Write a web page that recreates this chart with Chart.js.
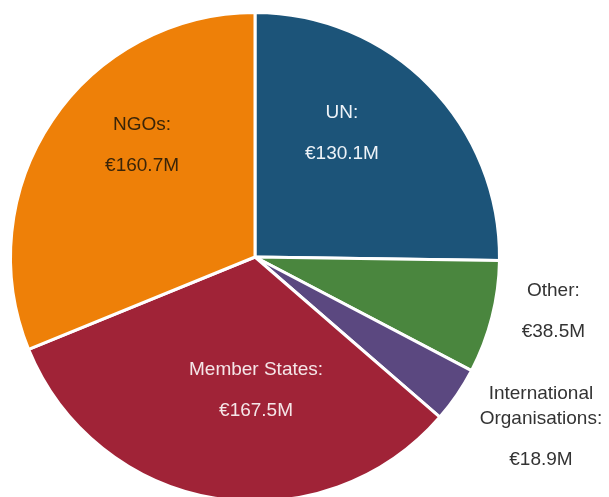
<!DOCTYPE html>
<html>
<head>
<meta charset="utf-8">
<script src="https://cdn.jsdelivr.net/npm/chart.js@4"></script>
<style>
  html, body { margin: 0; padding: 0; background: #fff; }
  #wrap { width: 609px; height: 497px; overflow: hidden; position: relative; }
</style>
</head>
<body>
<div id="wrap"><canvas id="chart" width="609" height="504"></canvas></div>
<script>
// Dados (em milhões de euros), na ordem horária a partir do topo
const categorias = ['UN', 'Other', 'International Organisations', 'Member States', 'NGOs'];
const linhasRotulo = [['UN:'], ['Other:'], ['International', 'Organisations:'], ['Member States:'], ['NGOs:']];
const valores = [130.1, 38.5, 18.9, 167.5, 160.7];
const cores = ['#1c5479', '#4a863e', '#5b4880', '#a02337', '#ee8008'];
const coresTexto = ['#eef3f8', '#333333', '#333333', '#f5e6e8', '#3a2408'];

// posição do rótulo: desvio angular (graus) e fator de raio em relação ao meio da fatia
const posRotulo = [
    { dAng: -10.4, fr: 0.62 },
    { dAng: -4.0, fr: 1.24 },
    { dAng: -3.6, fr: 1.36 },
    { dAng: -9.8, fr: 0.545 },
    { dAng: 10.8, fr: 0.65 }
];

// plugin simples para escrever os rótulos
const pluginRotulos = {
    id: 'rotulos',
    afterDatasetsDraw(chart) {
        const ctx = chart.ctx;
        const meta = chart.getDatasetMeta(0);
        ctx.save();
        ctx.font = '19px "Liberation Sans", Arial, sans-serif';
        ctx.textAlign = 'center';
        ctx.textBaseline = 'middle';
        meta.data.forEach((arco, i) => {
            const p = arco.getProps(['x', 'y', 'startAngle', 'endAngle', 'outerRadius'], true);
            const meio = (p.startAngle + p.endAngle) / 2 + posRotulo[i].dAng * Math.PI / 180;
            const r = p.outerRadius * posRotulo[i].fr;
            const cx = p.x + Math.cos(meio) * r;
            const cy = p.y + Math.sin(meio) * r;
            const linhas = linhasRotulo[i];
            const valorTxt = '€' + valores[i].toFixed(1) + 'M';
            // altura total: linhas de nome (25px) + espaço até o valor (41px)
            const altura = (linhas.length - 1) * 25 + 41;
            let y = cy - altura / 2;
            ctx.fillStyle = coresTexto[i];
            linhas.forEach((l, k) => {
                ctx.fillText(l, cx, y + k * 25);
            });
            ctx.fillText(valorTxt, cx, y + (linhas.length - 1) * 25 + 41);
        });
        ctx.restore();
    }
};

new Chart(document.getElementById('chart'), {
    type: 'pie',
    data: {
        labels: categorias,
        datasets: [{
            data: valores,
            backgroundColor: cores,
            borderColor: '#ffffff',
            borderWidth: 3
        }]
    },
    options: {
        responsive: false,
        animation: false,
        devicePixelRatio: 1,
        layout: {
            padding: { left: 9, top: 11, right: 108, bottom: 1 }
        },
        plugins: {
            legend: { display: false },
            tooltip: { enabled: false }
        }
    },
    plugins: [pluginRotulos]
});
</script>
</body>
</html>
